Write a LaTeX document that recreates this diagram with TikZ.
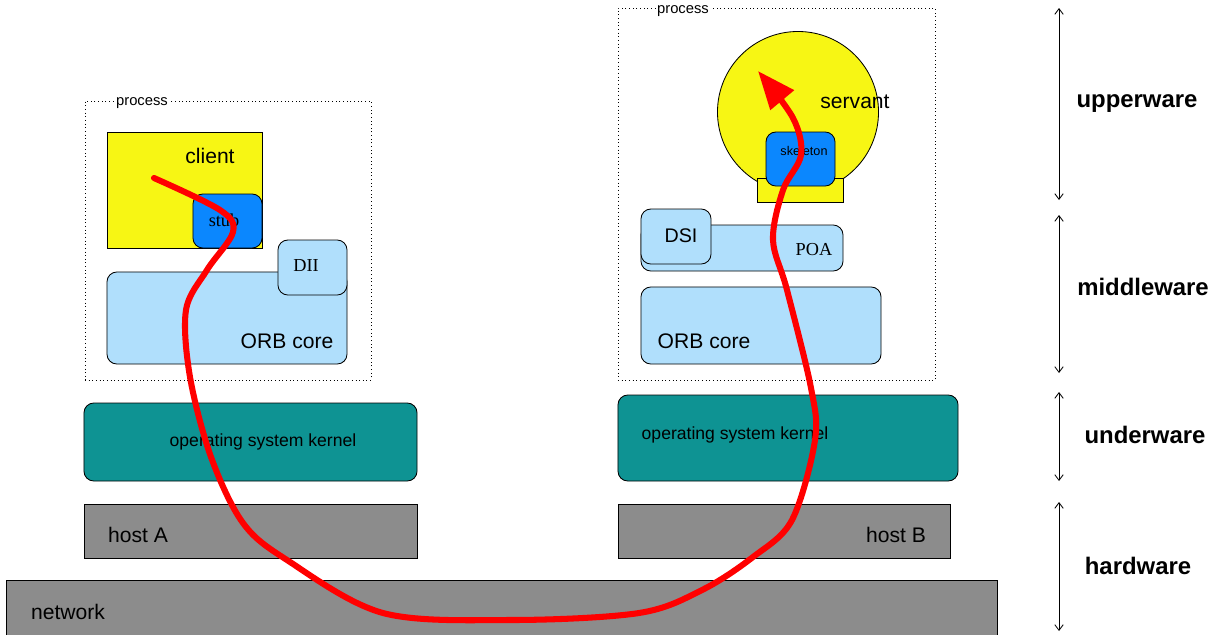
\documentclass[tikz,border=0pt]{standalone}
\usepackage{fontspec}
\setmainfont{Liberation Serif}
\setsansfont{Liberation Sans}
\usetikzlibrary{arrows.meta}
\definecolor{objyellow}{RGB}{247,246,20}
\definecolor{stubblue}{RGB}{11,135,254}
\definecolor{orbblue}{RGB}{176,223,252}
\definecolor{osteal}{RGB}{14,147,147}
\definecolor{hwgray}{RGB}{140,140,140}

\begin{document}
\begin{tikzpicture}[x=0.025cm, y=-0.025cm, font=\sffamily, line width=0.6pt]
    \tikzstyle{box}=[draw, inner sep=0pt, outer sep=0pt]
    \tikzstyle{proc}=[box, dotted]
    \tikzstyle{obj}=[box, fill=objyellow]
    \tikzstyle{stubbox}=[box, rounded corners=7pt, fill=stubblue]
    \tikzstyle{orb}=[box, rounded corners=7pt, fill=orbblue]
    \tikzstyle{os}=[box, rounded corners=7pt, fill=osteal]
    \tikzstyle{hw}=[box, fill=hwgray]
    \tikzstyle{big}=[inner sep=0pt, font=\sffamily\fontsize{15}{18}\selectfont]
    \tikzstyle{mid}=[inner sep=0pt, font=\sffamily\fontsize{12.5}{15}\selectfont]
    \tikzstyle{rom}=[inner sep=0pt, font=\rmfamily\fontsize{13}{15}\selectfont]
    \tikzstyle{small}=[inner sep=1pt, fill=white, font=\sffamily\fontsize{10.5}{12}\selectfont]
    \tikzstyle{layer}=[inner sep=0pt, font=\sffamily\bfseries\fontsize{17}{20}\selectfont]
    \tikzstyle{span}=[draw, {Straight Barb[length=4pt,width=6pt]}-{Straight Barb[length=4pt,width=6pt]}]
    \tikzstyle{flow}=[draw=red, line width=4.3pt, line cap=round, -{Triangle[length=27pt,width=21pt]}]
    \useasboundingbox (0,0) rectangle (1216,634);

    % host A side
    \node[proc, minimum width=7.15cm, minimum height=6.975cm] (procA) at (228,240.5) {};
    \node[small] (procAtxt) at (142,103) {process};
    \node[obj, minimum width=3.875cm, minimum height=2.9cm] (client) at (184.5,190) {};
    \node[big] (clienttxt) at (210,156) {client};
    \node[stubbox, minimum width=1.725cm, minimum height=1.35cm] (stub) at (227.5,221) {};
    \node[rom] (stubtxt) at (224,220) {stub};
    \node[orb, minimum width=6cm, minimum height=2.3cm] (orbA) at (227,318) {};
    \node[big] (orbAtxt) at (287,341) {ORB core};
    \node[orb, minimum width=1.725cm, minimum height=1.375cm] (dii) at (312.5,267.5) {};
    \node[rom] (diitxt) at (306,266) {DII};
    \node[os, minimum width=8.325cm, minimum height=1.95cm] (osA) at (250.5,442) {};
    \node[mid] (osAtxt) at (263,442) {operating system kernel};
    \node[hw, minimum width=8.325cm, minimum height=1.35cm] (hostA) at (250.5,531) {};
    \node[big] (hostAtxt) at (138,535) {host A};

    % host B side
    \node[proc, minimum width=7.925cm, minimum height=9.3cm] (procB) at (776.5,194) {};
    \node[small] (procBtxt) at (683,11) {process};
    \node[obj, circle, minimum size=4.025cm] (servant) at (798,112) {};
    \node[big] (servanttxt) at (855,102) {servant};
    \node[obj, minimum width=2.15cm, minimum height=0.6cm] (base) at (800,190) {};
    \node[stubbox, minimum width=1.725cm, minimum height=1.35cm] (skel) at (800.5,159) {};
    \node[inner sep=0pt, font=\sffamily\fontsize{9}{11}\selectfont] (skeltxt) at (804,151) {skeleton};
    \node[orb, minimum width=5.05cm, minimum height=1.15cm] (poa) at (742,248) {};
    \node[rom] (poatxt) at (814,250) {POA};
    \node[orb, minimum width=1.75cm, minimum height=1.375cm] (dsi) at (676,236.5) {};
    \node[big, font=\sffamily\fontsize{14}{16}\selectfont] (dsitxt) at (681,236) {DSI};
    \node[orb, minimum width=6cm, minimum height=1.925cm] (orbB) at (761,325.5) {};
    \node[big] (orbBtxt) at (704,341) {ORB core};
    \node[os, minimum width=8.5cm, minimum height=2.15cm] (osB) at (788,438) {};
    \node[mid] (osBtxt) at (735,435) {operating system kernel};
    \node[hw, minimum width=8.3cm, minimum height=1.35cm] (hostB) at (784,531) {};
    \node[big] (hostBtxt) at (896,535) {host B};

    \node[hw, minimum width=24.75cm, minimum height=1.5cm] (net) at (502,610) {};
    \node[big] (nettxt) at (68,612) {network};

    % the invocation
    \coordinate (req) at (154,178);
    \coordinate (inv) at (758,71);
    \draw[flow] plot[smooth, tension=0.55] coordinates {(req) (220,210) (233,232) (207,270) (186,310) (190,377) (211,457) (243,523) (287,560) (383,613) (511,620) (639,613) (702,590) (753,557) (792,520) (815,440) (811,388) (787,290) (773,240) (783,190) (801,155) (793,118) (inv)};

    % layers
    \coordinate (u1) at (1059,8);   \coordinate (u2) at (1059,200);
    \coordinate (m1) at (1059,215); \coordinate (m2) at (1059,373);
    \coordinate (d1) at (1059,392); \coordinate (d2) at (1059,481);
    \coordinate (h1) at (1059,502); \coordinate (h2) at (1059,631);
    \draw[span] (u1) -- (u2); \draw[span] (m1) -- (m2);
    \draw[span] (d1) -- (d2); \draw[span] (h1) -- (h2);
    \node[layer] (upper) at (1137,104) {upperware};
    \node[layer] (middle) at (1143,287) {middleware};
    \node[layer] (under) at (1145,435) {underware};
    \node[layer] (hard) at (1138,566) {hardware};
\end{tikzpicture}
\end{document}
